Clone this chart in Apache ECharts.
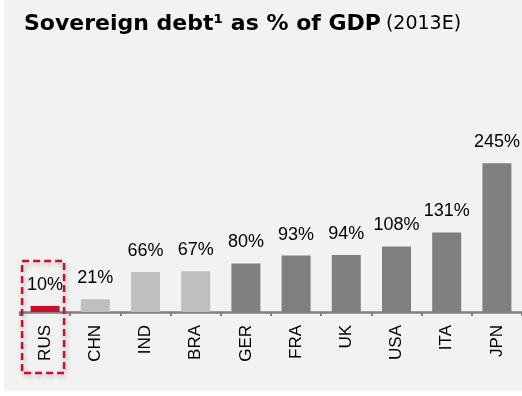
<!DOCTYPE html>
<html><head><meta charset="utf-8">
<script src="https://cdn.jsdelivr.net/npm/echarts@6/dist/echarts.min.js"></script>
<style>html,body{margin:0;padding:0;background:#fff}#c{width:522px;height:396px}</style>
</head><body><div id="c"></div>
<script>
const categories = ['RUS','CHN','IND','BRA','GER','FRA','UK','USA','ITA','JPN'];
const debtPct = [10, 21, 66, 67, 80, 93, 94, 108, 131, 245];
const highlighted = ['RUS'];
const emerging = ['CHN','IND','BRA'];

function colorFor(c){
  if (highlighted.includes(c)) return '#c8102e';
  if (emerging.includes(c)) return '#bfbfbf';
  return '#7f7f7f';
}

const chart = echarts.init(document.getElementById('c'));
chart.setOption({
  animation: false,
  backgroundColor: '#ffffff',
  title: {
    left: 19, top: 8,
    text: '{b|Sovereign debt¹ as % of GDP} {n|(2013E)}',
    textStyle: {
      rich: {
        b: {fontFamily:'DejaVu Sans', fontWeight:'bold', fontSize:22, color:'#000'},
        n: {fontFamily:'DejaVu Sans', fontWeight:'normal', fontSize:19, color:'#000'}
      }
    }
  },
  grid: {left: 20, right: 0, top: 130, bottom: 84, containLabel: false},
  xAxis: {
    type: 'category', data: categories,
    axisLine: {lineStyle: {color:'#808080', width:2.5}},
    axisTick: {show:true, length:4, lineStyle:{color:'#808080', width:2}},
    axisLabel: {rotate:90, margin:13, fontFamily:'Liberation Sans', fontSize:17, color:'#000', interval:0}
  },
  yAxis: {type:'value', min:0, max:300, show:false, splitLine:{show:false}},
  series: [{
    type:'bar', barWidth:29,
    data: debtPct.map((v,i)=>({value:v, itemStyle:{color:colorFor(categories[i])}})),
    label: {show:true, position:'top', distance:12, formatter:'{c}%', fontFamily:'Liberation Sans', fontSize:18, color:'#000'}
  }]
});

// dashed highlight box around the highlighted category
const hx = chart.convertToPixel({xAxisIndex:0}, highlighted[0]);
const by = chart.convertToPixel({yAxisIndex:0}, 0);
chart.setOption({
  graphic: [
    {type:'rect', z:-10, silent:true, shape:{x:4,y:0,width:518,height:391}, style:{fill:'#f2f2f2'}},
    {type:'rect', z:100, silent:true,
     shape:{x:hx-23, y:by-51, width:42, height:112},
     style:{fill:'none', stroke:'#c8102e', lineWidth:2.5, lineDash:[7,4],
            shadowBlur:5, shadowColor:'rgba(0,0,0,0.3)', shadowOffsetX:1, shadowOffsetY:2}}
  ]
});
</script></body></html>
